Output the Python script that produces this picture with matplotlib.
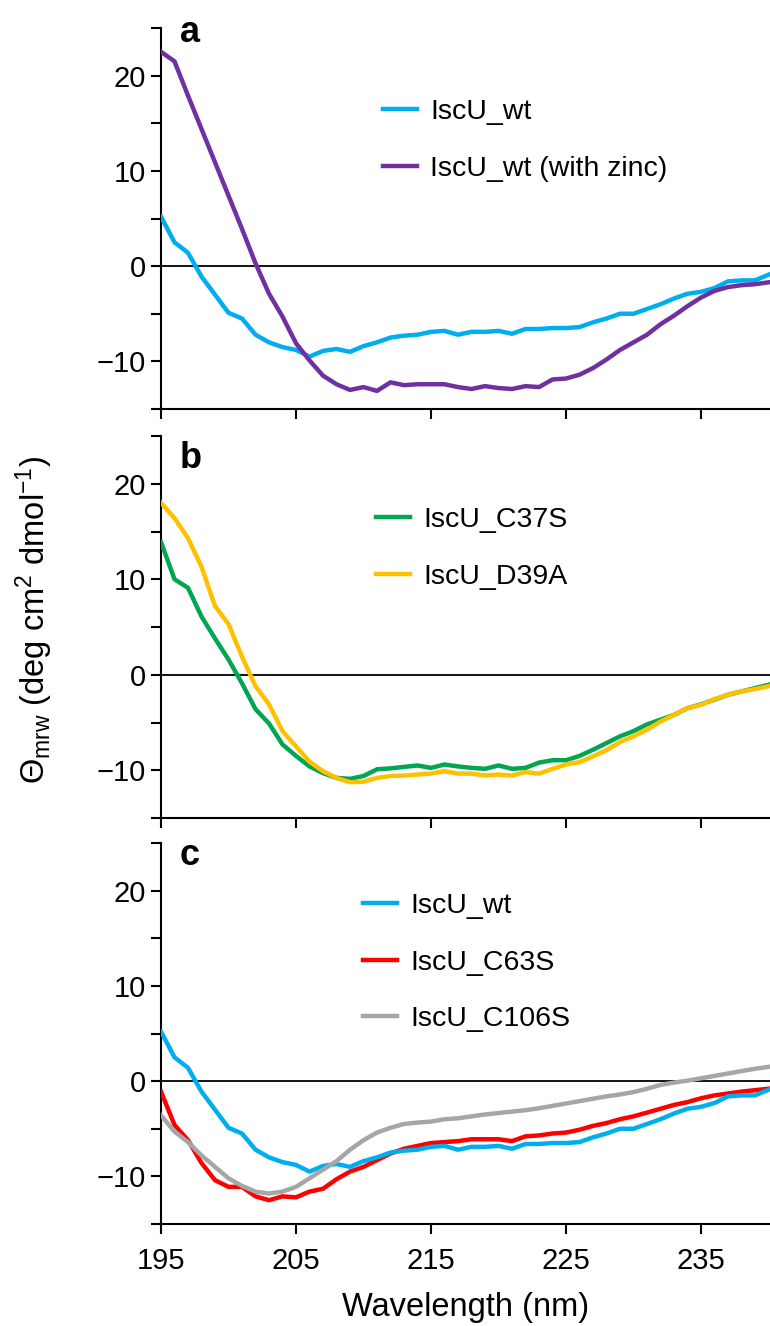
import numpy as np
import matplotlib
matplotlib.use("Agg")
import matplotlib.pyplot as plt
from matplotlib.ticker import MultipleLocator

# ---------------- data ----------------
wavelength = list(range(195, 241))

iscu_wt = [5.2, 2.5, 1.4, -1.1, -3.0, -4.9, -5.5, -7.2, -8.0, -8.5,
           -8.8, -9.5, -8.9, -8.7, -9.0, -8.4, -8.0, -7.5, -7.3, -7.2,
           -6.9, -6.8, -7.2, -6.9, -6.9, -6.8, -7.1, -6.6, -6.6, -6.5,
           -6.5, -6.4, -5.9, -5.5, -5.0, -5.0, -4.5, -4.0, -3.4, -2.9,
           -2.7, -2.3, -1.6, -1.5, -1.5, -0.9]

iscu_wt_zinc = [22.5, 21.5, 17.9, 14.4, 10.9, 7.4, 3.9, 0.3, -2.9, -5.3,
                -8.1, -9.9, -11.5, -12.4, -13.0, -12.7, -13.1, -12.2, -12.5, -12.4,
                -12.4, -12.4, -12.7, -12.9, -12.6, -12.8, -12.9, -12.6, -12.7, -11.9,
                -11.8, -11.4, -10.7, -9.8, -8.8, -8.0, -7.2, -6.1, -5.2, -4.2,
                -3.3, -2.6, -2.2, -2.0, -1.9, -1.7]

iscu_c37s = [13.9, 10.0, 9.1, 6.1, 3.8, 1.6, -0.9, -3.6, -5.1, -7.3,
             -8.5, -9.6, -10.3, -10.8, -10.9, -10.6, -9.9, -9.8, -9.65, -9.5,
             -9.75, -9.4, -9.6, -9.75, -9.85, -9.5, -9.85, -9.75, -9.2, -8.95,
             -8.95, -8.5, -7.85, -7.15, -6.45, -5.9, -5.2, -4.7, -4.2, -3.5,
             -3.1, -2.6, -2.1, -1.75, -1.4, -1.05]

iscu_d39a = [18.0, 16.4, 14.3, 11.3, 7.2, 5.3, 1.9, -1.2, -3.1, -5.9,
             -7.5, -9.1, -10.1, -10.8, -11.25, -11.2, -10.8, -10.6, -10.55, -10.45,
             -10.35, -10.1, -10.35, -10.35, -10.55, -10.45, -10.55, -10.2, -10.35, -9.85,
             -9.4, -9.15, -8.55, -7.9, -7.05, -6.45, -5.75, -4.9, -4.2, -3.5,
             -3.15, -2.55, -2.1, -1.75, -1.5, -1.2]

iscu_c63s = [-1.1, -4.6, -6.2, -8.6, -10.4, -11.1, -11.1, -12.1, -12.5, -12.1,
             -12.2, -11.6, -11.3, -10.3, -9.5, -9.0, -8.3, -7.6, -7.1, -6.8,
             -6.5, -6.4, -6.3, -6.1, -6.1, -6.1, -6.3, -5.8, -5.7, -5.5,
             -5.4, -5.1, -4.7, -4.4, -4.0, -3.7, -3.3, -2.9, -2.5, -2.2,
             -1.8, -1.5, -1.3, -1.1, -0.95, -0.8]

iscu_c106s = [-3.6, -5.3, -6.4, -7.8, -9.0, -10.2, -11.0, -11.6, -11.8, -11.6,
              -11.1, -10.2, -9.3, -8.4, -7.2, -6.2, -5.4, -4.9, -4.5, -4.35,
              -4.25, -4.0, -3.9, -3.7, -3.5, -3.35, -3.2, -3.05, -2.85, -2.6,
              -2.35, -2.1, -1.85, -1.6, -1.4, -1.15, -0.8, -0.4, -0.15, 0.05,
              0.3, 0.55, 0.8, 1.05, 1.3, 1.5]

x_ticks = [195, 205, 215, 225, 235]
y_major = [-10, 0, 10, 20]
panel_letters = ["a", "b", "c"]

# ---------------- style ----------------
FONT = "Liberation Sans"
plt.rcParams["font.family"] = [FONT, "DejaVu Sans"]
plt.rcParams["mathtext.fontset"] = "custom"
plt.rcParams["mathtext.rm"] = FONT
plt.rcParams["mathtext.it"] = FONT + ":italic"
plt.rcParams["mathtext.bf"] = FONT + ":bold"

C_BLUE = "#00AEEF"
C_PURPLE = "#7030A0"
C_GREEN = "#00A651"
C_YELLOW = "#FFC000"
C_RED = "#FF0000"
C_GRAY = "#A6A6A6"
LW = 3.2
SPINE_LW = 1.5
TICK_FS = 21
LEG_FS = 20.5
LABEL_FS = 23.5

W, H = 770, 1326
fig = plt.figure(figsize=(W / 100, H / 100), dpi=100)


def make_axes(top, bottom):
    return fig.add_axes([161 / W, 1 - bottom / H, (770 - 161) / W, (bottom - top) / H])


axes = [make_axes(28, 409), make_axes(436, 818), make_axes(843, 1224)]

for i, ax in enumerate(axes):
    ax.set_xlim(195, 240.11)
    ax.set_ylim(-15, 25)
    for s in ("top", "right"):
        ax.spines[s].set_visible(False)
    for s in ("left", "bottom"):
        ax.spines[s].set_linewidth(SPINE_LW)
    ax.axhline(0, color="black", lw=1.3, zorder=1)
    ax.set_xticks(x_ticks)
    ax.set_yticks(y_major)
    ax.yaxis.set_minor_locator(MultipleLocator(5))
    ax.tick_params(axis="both", which="both", direction="out", length=7.5,
                   width=SPINE_LW, labelsize=TICK_FS)
    ax.tick_params(axis="y", which="both", pad=3.5)
    ax.tick_params(axis="x", which="major", pad=9)
    ax.set_yticklabels([("\u2212%d" % -v) if v < 0 else str(v) for v in y_major])
    if i < 2:
        ax.tick_params(axis="x", labelbottom=False)

# panel a
la, = axes[0].plot(wavelength, iscu_wt, color=C_BLUE, lw=LW, label="IscU_wt", zorder=3)
lz, = axes[0].plot(wavelength, iscu_wt_zinc, color=C_PURPLE, lw=LW,
                   label="IscU_wt (with zinc)", zorder=4)
# panel b
lg, = axes[1].plot(wavelength, iscu_c37s, color=C_GREEN, lw=LW, label="IscU_C37S", zorder=3)
ly, = axes[1].plot(wavelength, iscu_d39a, color=C_YELLOW, lw=LW, label="IscU_D39A", zorder=4)
# panel c
lr, = axes[2].plot(wavelength, iscu_c63s, color=C_RED, lw=LW, label="IscU_C63S", zorder=3)
lgr, = axes[2].plot(wavelength, iscu_c106s, color=C_GRAY, lw=LW, label="IscU_C106S", zorder=4)
lb, = axes[2].plot(wavelength, iscu_wt, color=C_BLUE, lw=LW, label="IscU_wt", zorder=3.5)

leg_kw = dict(frameon=False, fontsize=LEG_FS, handlelength=1.2, handletextpad=0.45,
              labelspacing=1.07, borderpad=0, borderaxespad=0, loc="center left")
axes[0].legend([la, lz], ["IscU_wt", "IscU_wt (with zinc)"],
               bbox_to_anchor=(0.365, 0.705), **leg_kw)
axes[1].legend([lg, ly], ["IscU_C37S", "IscU_D39A"],
               bbox_to_anchor=(0.353, 0.7055), **leg_kw)
axes[2].legend([lb, lr, lgr], ["IscU_wt", "IscU_C63S", "IscU_C106S"],
               bbox_to_anchor=(0.332, 0.686), **leg_kw)

# panel letters
for letter, base_px in zip(panel_letters, [42, 468, 865]):
    fig.text(180 / W, 1 - base_px / H, letter, fontsize=26, fontweight="bold",
             ha="left", va="baseline")

# axis labels
fig.text(466 / W, 1 - 1316 / H, "Wavelength (nm)", fontsize=LABEL_FS,
         ha="center", va="baseline")
fig.text(34 / W, 1 - 620 / H,
         "$\\mathrm{\u0398}_{\\mathrm{mrw}}$ (deg cm$^{2}$ dmol$^{\u22121}$)",
         fontsize=LABEL_FS, rotation=90, ha="center", va="center")

fig.savefig("out.png", dpi=100)
